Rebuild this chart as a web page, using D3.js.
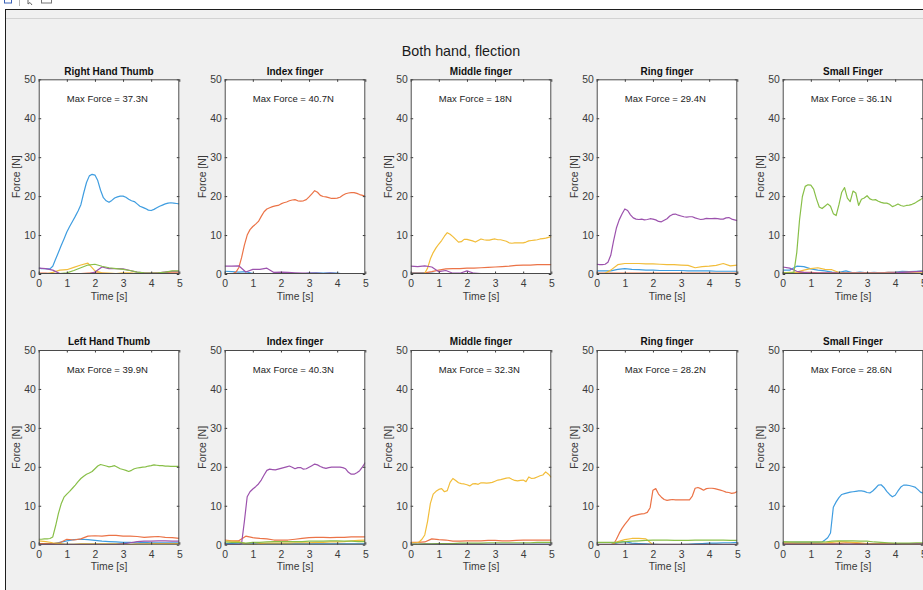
<!DOCTYPE html>
<html>
<head>
<meta charset="utf-8">
<script src="https://cdn.jsdelivr.net/npm/d3@7"></script>
<style>
  body { margin: 0; background: #fff; }
  svg { display: block; font-family: "Liberation Sans", Arial, sans-serif; }
</style>
</head>
<body>
<svg id="chart"></svg>
<script>
// sample grids (seconds)
const timeFine = [0, 0.1, 0.2, 0.3, 0.4, 0.5, 0.6, 0.7, 0.8, 0.9, 1, 1.1, 1.2, 1.3, 1.4, 1.5, 1.6, 1.7, 1.8, 1.9,
  2, 2.1, 2.2, 2.3, 2.4, 2.5, 2.6, 2.7, 2.8, 2.9, 3, 3.1, 3.2, 3.3, 3.4, 3.5, 3.6, 3.7, 3.8, 3.9,
  4, 4.1, 4.2, 4.3, 4.4, 4.5, 4.6, 4.7, 4.8, 4.9, 5]
const timeCoarse = [0, 0.25, 0.5, 0.75, 1, 1.25, 1.5, 1.75, 2, 2.25, 2.5, 2.75, 3, 3.25, 3.5, 3.75, 4, 4.25, 4.5, 4.75, 5]

const topTitles = ['Right Hand Thumb', 'Index finger', 'Middle finger', 'Ring finger', 'Small Finger']
const bottomTitles = ['Left Hand Thumb', 'Index finger', 'Middle finger', 'Ring finger', 'Small Finger']
const topMaxForce = ['37.3', '40.7', '18', '29.4', '36.1']
const bottomMaxForce = ['39.9', '40.3', '32.3', '28.2', '28.6']

const xTicks = [0, 1, 2, 3, 4, 5]
const yTicks = [0, 10, 20, 30, 40, 50]

// channel colours: blue, orange, yellow, purple, green
const colors = ['#3f9de0', '#eb7347', '#f2bd3a', '#9c52ad', '#88bf48']

// each panel: [blue, orange, yellow, purple, green]
const rightThumb = [
  [1.5, 1.4, 1.4, 1.3, 1.3, 2.0, 3.8, 5.5, 7.3, 9.0, 10.8, 12.2, 13.5, 14.8, 16.2, 17.8, 20.8, 23.5, 25.2, 25.6,
    25.4, 24.0, 21.5, 19.6, 18.8, 18.4, 18.9, 19.5, 19.8, 20.0, 20.0, 19.7, 19.2, 18.8, 18.6, 18.0, 17.4, 17.1, 16.8, 16.4,
    16.3, 16.6, 17.0, 17.4, 17.7, 18.0, 18.2, 18.3, 18.2, 18.1, 18.0],
  [0.2, 0.2, 0.1, 0.1, 0.1, 0.1, 0.1, 0.2, 0.3, 0.2, 0.1, 0.1, 0.1, 0.1, 0.1, 0.2, 0.2, 0.3, 0.4, 0.5, 0.5],
  [0, 0, 0.4, 1.0, 1.1, 1.7, 2.3, 2.8, 0.8, 0.3, 0.2, 0.1, 0.3, 0.3, 0.1, 0, 0, 0, 0, 0, 0],
  [1.5, 1.4, 1.0, 0.1, 0, 0, 0, 0, 0.5, 1.8, 1.4, 1.4, 1.3, 0.9, 0.5, 0.3, 0.2, 0.3, 0.5, 0.7, 0.7],
  [0, 0, 0, 0.1, 0.3, 0.9, 1.6, 2.3, 2.5, 2.0, 1.6, 1.4, 1.2, 0.9, 0.5, 0.3, 0.2, 0.3, 0.5, 0.8, 0.8]
]
const rightIndex = [
  [0.7, 0.6, 0.5, 0.6, 0.1, 0, 0, 0, 0, 0, 0, 0, 0.2, 0.3, 0.2, 0.3, 0.2, 0, 0, 0, 0],
  [0, 0, 0, 0.1, 0.5, 1.6, 4.2, 7.4, 10.0, 11.4, 12.2, 12.8, 13.5, 14.8, 16.0, 16.7, 17.0, 17.3, 17.5, 17.6,
    18.0, 18.3, 18.5, 18.8, 19.0, 19.1, 18.8, 18.7, 18.8, 19.1, 19.8, 20.6, 21.4, 21.0, 20.2, 19.9, 19.8, 19.6, 19.4, 19.4,
    19.5, 19.7, 20.2, 20.6, 20.8, 20.9, 20.9, 20.7, 20.4, 20.2, 20.0],
  [0.1, 0.1, 0.1, 0.1, 0.1, 0.1, 0.1, 0.1, 0.1, 0.1, 0.1, 0.1, 0.1, 0.1, 0.1, 0.1, 0.1, 0.1, 0.1, 0.1, 0.1],
  [2.0, 2.0, 2.1, 0.5, 1.2, 1.2, 1.5, 0.4, 0.5, 0.4, 0.3, 0.2, 0.2, 0.2, 0.1, 0.2, 0.1, 0, 0, 0, 0],
  [0, 0, 0, 0, 0, 0, 0, 0, 0, 0, 0, 0, 0, 0, 0, 0, 0, 0, 0, 0, 0]
]
const rightMiddle = [
  [0.3, 0.3, 0.3, 0.2, 0, 0, 0, 0, 0, 0, 0, 0, 0, 0, 0, 0, 0, 0, 0.1, 0, 0],
  [0.2, 0.2, 0.3, 0.6, 1.0, 1.3, 1.4, 1.4, 1.5, 1.5, 1.6, 1.7, 1.8, 1.9, 2.0, 2.2, 2.3, 2.3, 2.4, 2.4, 2.4],
  [0.1, 0.1, 0.1, 0.1, 0.1, 0.2, 1.5, 3.9, 5.5, 6.7, 7.7, 8.6, 9.7, 10.6, 10.2, 9.6, 8.9, 8.2, 8.3, 8.9,
    8.9, 8.7, 8.5, 8.2, 8.6, 9.0, 8.8, 8.7, 8.7, 8.9, 9.0, 8.8, 8.8, 8.6, 8.4, 8.0, 7.9, 8.0, 8.0, 8.0,
    8.0, 8.2, 8.5, 8.6, 8.7, 8.8, 9.0, 9.1, 9.2, 9.4, 9.6],
  [2.0, 1.9, 2.1, 1.8, 0.6, 0.9, 0.2, 0.2, 0.8, 0.2, 0.1, 0, 0, 0, 0, 0, 0, 0, 0, 0, 0],
  [0, 0, 0, 0, 0, 0, 0, 0, 0, 0, 0, 0, 0, 0, 0, 0, 0, 0, 0, 0, 0]
]
const rightRing = [
  [0.8, 0.8, 0.8, 1.2, 1.4, 1.2, 1.1, 1.0, 1.0, 0.9, 0.9, 0.9, 0.9, 0.8, 0.8, 0.8, 0.8, 0.7, 0.7, 0.7, 0.7],
  [0.2, 0.2, 0.2, 0.2, 0.2, 0.2, 0.2, 0.2, 0.2, 0.2, 0.2, 0.2, 0.2, 0.2, 0.2, 0.2, 0.2, 0.2, 0.2, 0.2, 0.2],
  [0, 0, 1.0, 2.4, 2.7, 2.7, 2.7, 2.6, 2.6, 2.5, 2.4, 2.4, 2.3, 2.2, 1.6, 1.9, 2.0, 2.2, 2.7, 2.1, 2.3],
  [2.5, 2.4, 2.4, 2.5, 3.0, 4.8, 8.5, 11.8, 13.9, 15.4, 16.7, 16.3, 15.2, 14.4, 14.1, 14.0, 14.1, 13.9, 14.0, 14.2,
    14.1, 13.9, 13.5, 13.4, 13.8, 14.2, 14.9, 15.3, 15.4, 15.1, 14.9, 14.7, 14.6, 14.7, 14.7, 14.4, 14.2, 14.0, 14.1, 14.3,
    14.2, 14.2, 14.3, 14.2, 14.1, 14.1, 14.4, 14.5, 14.1, 13.9, 13.7],
  [0.1, 0.1, 0.1, 0.1, 0.1, 0.1, 0.1, 0.1, 0.1, 0.1, 0.1, 0.1, 0.1, 0.1, 0.1, 0.1, 0.1, 0.1, 0.1, 0.1, 0.1]
]
const rightSmall = [
  [1.0, 1.0, 2.0, 1.9, 1.3, 1.0, 0.8, 0.5, 0.4, 0.8, 0.3, 0.5, 0.3, 0.4, 0.3, 0.4, 0.5, 0.7, 0.6, 0.7, 0.8],
  [0.3, 0.3, 0.3, 0.4, 0.4, 0.3, 0.3, 0.3, 0.3, 0.3, 0.3, 0.3, 0.3, 0.3, 0.3, 0.4, 0.4, 0.4, 0.5, 0.6, 0.7],
  [0.3, 0.4, 0.5, 1.0, 1.4, 1.6, 1.2, 1.1, 0.4, 0.3, 0.3, 0.3, 0.3, 0.3, 0.3, 0.3, 0.3, 0.3, 0.3, 0.3, 0.3],
  [1.8, 1.5, 0.7, 0.4, 0.2, 0.2, 0.2, 0.2, 0.2, 0.2, 0.2, 0.2, 0.2, 0.2, 0.2, 0.2, 0.3, 0.4, 0.5, 0.6, 0.7],
  [0.3, 0.3, 0.3, 0.3, 0.5, 5.5, 14.0, 19.9, 22.5, 22.9, 22.8, 21.8, 19.3, 17.2, 16.8, 17.4, 18.0, 17.4, 15.5, 15.0,
    17.8, 21.0, 22.2, 19.5, 18.6, 21.3, 20.8, 17.6, 19.2, 19.5, 20.1, 19.3, 19.0, 19.1, 18.7, 18.4, 18.2, 18.2, 17.9, 17.3,
    17.6, 18.0, 17.6, 17.4, 17.6, 17.7, 17.9, 18.2, 18.7, 19.1, 19.6]
]
const leftThumb = [
  [0.2, 0.2, 0.2, 0.6, 1.0, 1.3, 1.4, 1.3, 1.1, 0.9, 0.8, 0.7, 0.6, 0.6, 0.5, 0.6, 0.5, 0.5, 0.5, 0.5, 0.5],
  [0.3, 0.3, 0.2, 0.5, 1.4, 1.2, 1.5, 2.2, 2.3, 2.2, 2.4, 2.4, 2.2, 2.2, 2.1, 1.9, 2.0, 2.1, 1.9, 1.8, 1.6],
  [1.0, 0.8, 0.5, 0.3, 0.1, 0.1, 0.2, 0.2, 0.2, 0.2, 0.2, 0.2, 0.2, 0, 0.2, 0.2, 0.3, 0.3, 0.3, 0.3, 0.3],
  [0, 0, 0, 0, 0, 0, 0, 0, 0, 0, 0, 0, 0.2, 0.5, 0.8, 0.9, 0.9, 1.0, 1.0, 0.9, 0.9],
  [1.4, 1.4, 1.5, 1.5, 1.6, 2.0, 4.8, 8.0, 10.5, 12.2, 13.0, 13.7, 14.5, 15.3, 16.2, 17.0, 17.6, 18.1, 18.4, 18.8,
    19.5, 20.2, 20.6, 20.4, 20.2, 20.0, 20.1, 20.3, 19.9, 19.5, 19.3, 19.1, 18.8, 19.1, 19.5, 19.7, 19.8, 19.9, 20.0, 20.2,
    20.3, 20.5, 20.4, 20.3, 20.3, 20.2, 20.2, 20.1, 20.1, 20.1, 20.1]
]
const leftIndex = [
  [0.3, 0.3, 0.2, 0.2, 0.2, 0.2, 0.2, 0.2, 0.2, 0.2, 0.2, 0.2, 0.2, 0.2, 0.2, 0.2, 0.2, 0.2, 0.2, 0.2, 0.2],
  [1.2, 1.0, 1.0, 2.2, 1.8, 1.6, 1.5, 1.2, 1.2, 1.2, 1.4, 1.6, 1.8, 1.9, 1.9, 1.8, 1.9, 1.9, 2.0, 2.0, 2.0],
  [1.0, 0.9, 0.8, 0.2, 0, 0.3, 0.4, 0.4, 0.4, 0.4, 0.5, 0.5, 0.5, 0.6, 0.6, 0.7, 0.7, 0.8, 1.0, 1.1, 1.2],
  [0, 0, 0, 0, 0, 0, 0.3, 6.0, 12.3, 13.6, 14.3, 14.9, 15.6, 16.6, 17.9, 19.1, 19.4, 19.3, 19.2, 19.4,
    19.6, 19.8, 20.0, 20.2, 19.9, 19.5, 19.8, 19.8, 19.4, 19.5, 19.9, 20.3, 20.7, 20.5, 20.1, 19.8, 19.6, 19.8, 19.9, 19.9,
    19.9, 19.9, 19.8, 19.5, 18.6, 18.1, 18.1, 18.5, 19.0, 20.0, 21.1],
  [0.7, 0.6, 0.6, 0.4, 0.6, 0.6, 0.7, 0.8, 0.8, 0.8, 0.8, 0.8, 0.9, 0.9, 0.9, 1.0, 1.0, 0.9, 0.9, 0.8, 0.8]
]
const leftMiddle = [
  [0.1, 0.1, 0.1, 0.1, 0.1, 0.1, 0.1, 0.1, 0.1, 0.1, 0.1, 0.1, 0.1, 0.1, 0.1, 0.1, 0.1, 0.1, 0.1, 0.1, 0.1],
  [0.6, 0.6, 0.7, 1.5, 1.3, 1.2, 0.9, 0.9, 1.0, 1.0, 1.0, 1.1, 1.1, 1.0, 1.0, 1.1, 1.2, 1.2, 1.2, 1.2, 1.2],
  [0.5, 0.5, 0.5, 0.7, 1.4, 2.5, 6.0, 10.6, 13.0, 13.7, 14.2, 14.4, 13.6, 13.9, 16.0, 17.0, 16.5, 15.9, 15.7, 15.6,
    15.4, 15.1, 15.6, 15.7, 15.5, 15.9, 15.9, 15.8, 15.9, 16.0, 16.3, 16.6, 16.7, 16.9, 17.1, 17.2, 16.8, 16.5, 16.4, 16.5,
    16.6, 16.2, 17.4, 17.0, 17.1, 17.4, 17.7, 17.9, 18.7, 18.1, 17.3],
  [0, 0, 0, 0, 0, 0, 0, 0, 0, 0, 0, 0, 0, 0, 0, 0, 0, 0, 0, 0, 0],
  [0.1, 0.1, 0.2, 0.2, 0.3, 0.3, 0.3, 0.4, 0.4, 0.4, 0.4, 0.5, 0.5, 0.5, 0.5, 0.5, 0.5, 0.5, 0.6, 0.6, 0.6]
]
const leftRing = [
  [0, 0, 0, 0.5, 0.8, 0.4, 0.3, 0.2, 0.1, 0, 0, 0, 0, 0.1, 0.2, 0.3, 0.4, 0.4, 0.5, 0.5, 0.6],
  [0, 0, 0, 0, 0, 0, 0.1, 1.4, 2.9, 4.2, 5.2, 6.1, 7.1, 7.4, 7.6, 7.8, 7.9, 8.0, 8.3, 9.5,
    14.0, 14.4, 13.0, 12.2, 11.6, 11.4, 11.5, 11.6, 11.5, 11.5, 11.5, 11.5, 11.5, 11.5, 12.5, 14.5, 14.7, 14.4, 14.0, 14.4,
    14.5, 14.5, 14.4, 14.2, 14.0, 13.8, 13.5, 13.4, 13.2, 13.3, 13.7],
  [0, 0, 0, 0.8, 1.3, 1.6, 1.6, 1.5, 0, 0, 0, 0, 0, 0, 0, 0, 0, 0, 0, 0, 0],
  [0, 0, 0, 0, 0, 0, 0, 0, 0, 0, 0, 0, 0, 0, 0, 0, 0, 0, 0, 0, 0],
  [0.6, 0.6, 0.6, 0.6, 0.8, 0.9, 1.0, 1.1, 1.2, 1.2, 1.2, 1.1, 1.1, 1.1, 1.2, 1.2, 1.2, 1.2, 1.2, 1.1, 1.1]
]
const leftSmall = [
  [0.6, 0.6, 0.6, 0.6, 0.6, 0.6, 0.6, 0.6, 0.6, 0.6, 0.6, 0.6, 0.6, 0.6, 0.7, 1.2, 1.8, 3.0, 9.6, 11.0,
    12.1, 12.9, 13.1, 13.3, 13.5, 13.6, 13.7, 13.8, 13.8, 13.7, 13.4, 13.3, 13.8, 14.5, 15.3, 15.4, 14.7, 13.7, 12.9, 12.3,
    12.7, 13.8, 14.8, 15.3, 15.3, 15.2, 15.0, 14.8, 14.2, 13.5, 13.2],
  [0.2, 0.2, 0.2, 0.2, 0.2, 0.2, 0.2, 0.2, 0.3, 0.5, 0.4, 0.3, 0.2, 0.2, 0.2, 0.2, 0.2, 0.2, 0.2, 0.2, 0.2],
  [0.5, 0.5, 0.4, 0.4, 0.4, 0.4, 0.4, 0.6, 0.8, 0.7, 0.6, 0.5, 0.3, 0.2, 0.2, 0.2, 0.2, 0.2, 0.2, 0.2, 0.2],
  [0.1, 0.1, 0.1, 0.1, 0.1, 0.1, 0.1, 0.1, 0.1, 0.1, 0.1, 0.1, 0.1, 0.1, 0.1, 0.1, 0.1, 0.2, 0.2, 0.2, 0.2],
  [0.8, 0.7, 0.7, 0.7, 0.7, 0.7, 0.7, 0.9, 1.0, 1.0, 1.0, 0.9, 0.9, 0.7, 0.6, 0.5, 0.4, 0.4, 0.4, 0.5, 0.5]
]

const panels = [
  [rightThumb, rightIndex, rightMiddle, rightRing, rightSmall],
  [leftThumb, leftIndex, leftMiddle, leftRing, leftSmall]
]
const titles = [topTitles, bottomTitles]
const maxForces = [topMaxForce, bottomMaxForce]

var width = 923
var height = 590

var svg = d3.select('#chart').attr('width', width).attr('height', height)

// window frame
svg.append('rect').attr('width', width).attr('height', height).attr('fill', '#fff')
svg.append('rect').attr('x', 6).attr('y', 10).attr('width', width).attr('height', height).attr('fill', '#f0f0f0')
svg.append('line').attr('x1', 6).attr('x2', width).attr('y1', 18.5).attr('y2', 18.5).attr('stroke', '#d2d2d2')
svg.append('line').attr('x1', 5).attr('x2', width).attr('y1', 9.5).attr('y2', 9.5).attr('stroke', '#1e1e1e')
svg.append('line').attr('x1', 5.5).attr('x2', 5.5).attr('y1', 9).attr('y2', height).attr('stroke', '#1e1e1e')
// toolbar remnants
svg.append('rect').attr('x', 4.5).attr('y', -3).attr('width', 7).attr('height', 6)
  .attr('fill', 'none').attr('stroke', '#3b62b8')
svg.append('line').attr('x1', 19.5).attr('x2', 19.5).attr('y1', 0).attr('y2', 6).attr('stroke', '#b8b8b8')
svg.append('path').attr('d', 'M28,0 L28,4 L30,2.5 L32,5').attr('fill', 'none').attr('stroke', '#666')
svg.append('rect').attr('x', 41.5).attr('y', -2).attr('width', 10).attr('height', 5)
  .attr('fill', 'none').attr('stroke', '#777')

svg.append('text')
  .attr('x', 461)
  .attr('y', 51)
  .attr('dy', '0.35em')
  .attr('text-anchor', 'middle')
  .attr('font-size', 14.3)
  .attr('fill', '#1a1a1a')
  .text('Both hand, flection')

var axLeft = 38.7
var axStep = 186
var axW = 140.6
var axH = 194.7
var rowTops = [79.3, 350]

var x = d3.scaleLinear().domain([0, 5]).range([0, axW])
var y = d3.scaleLinear().domain([0, 50]).range([axH, 0])

var line = d3.line()
  .x((d) => x(d[0]))
  .y((d) => y(d[1]))

svg.append('defs').append('clipPath').attr('id', 'plotclip')
  .append('rect').attr('width', axW).attr('height', axH)

for (var r = 0; r < 2; r++) {
  for (var c = 0; c < 5; c++) {
    var g = svg.append('g')
      .attr('transform', `translate(${axLeft + c * axStep},${rowTops[r]})`)

    g.append('rect').attr('width', axW).attr('height', axH).attr('fill', '#fff')

    var series = panels[r][c].map((vals) => {
      var times = vals.length === timeFine.length ? timeFine : timeCoarse
      return vals.map((v, i) => [times[i], v])
    })

    g.append('g')
      .attr('clip-path', 'url(#plotclip)')
      .selectAll('path')
      .data(series)
      .join('path')
      .attr('fill', 'none')
      .attr('stroke', (d, i) => colors[i])
      .attr('stroke-width', 1.2)
      .attr('stroke-linejoin', 'round')
      .attr('d', line)

    // ticks inside on all four sides
    var axisStyle = (sel) => {
      sel.select('.domain').remove()
      sel.selectAll('line').attr('stroke', '#3a3a3a')
      sel.selectAll('text').attr('fill', '#3a3a3a').attr('font-size', 10.4)
        .attr('font-family', '"Liberation Sans", Arial, sans-serif')
    }
    g.append('g')
      .attr('transform', `translate(0,${axH})`)
      .call(d3.axisBottom(x).tickValues(xTicks).tickFormat(d3.format('d')).tickSize(-2.5).tickPadding(5.5))
      .call(axisStyle)
    g.append('g')
      .call(d3.axisTop(x).tickValues(xTicks).tickSize(-2.5).tickFormat(''))
      .call(axisStyle)
    g.append('g')
      .call(d3.axisLeft(y).tickValues(yTicks).tickFormat(d3.format('d')).tickSize(-2.5).tickPadding(3))
      .call(axisStyle)
    g.append('g')
      .attr('transform', `translate(${axW},0)`)
      .call(d3.axisRight(y).tickValues(yTicks).tickSize(-2.5).tickFormat(''))
      .call(axisStyle)

    g.append('rect')
      .attr('x', 0.5).attr('y', 0.5)
      .attr('width', axW - 1).attr('height', axH - 1)
      .attr('fill', 'none')
      .attr('stroke', '#4a4a4a')

    g.append('text')
      .attr('x', axW / 2)
      .attr('y', -4.8)
      .attr('text-anchor', 'middle')
      .attr('font-size', 10)
      .attr('font-weight', 'bold')
      .attr('fill', '#111')
      .text(titles[r][c])

    g.append('text')
      .attr('x', x(1))
      .attr('y', y(45))
      .attr('dy', '0.35em')
      .attr('font-size', 9.5)
      .attr('fill', '#222')
      .text(`Max Force = ${maxForces[r][c]}N`)

    g.append('text')
      .attr('transform', `translate(-22.7,${axH / 2}) rotate(-90)`)
      .attr('dy', '0.35em')
      .attr('text-anchor', 'middle')
      .attr('font-size', 10.4)
      .attr('fill', '#3a3a3a')
      .text('Force [N]')

    g.append('text')
      .attr('x', axW / 2)
      .attr('y', axH + 22)
      .attr('dy', '0.35em')
      .attr('text-anchor', 'middle')
      .attr('font-size', 10.4)
      .attr('fill', '#3a3a3a')
      .text('Time [s]')
  }
}
</script>
</body>
</html>
